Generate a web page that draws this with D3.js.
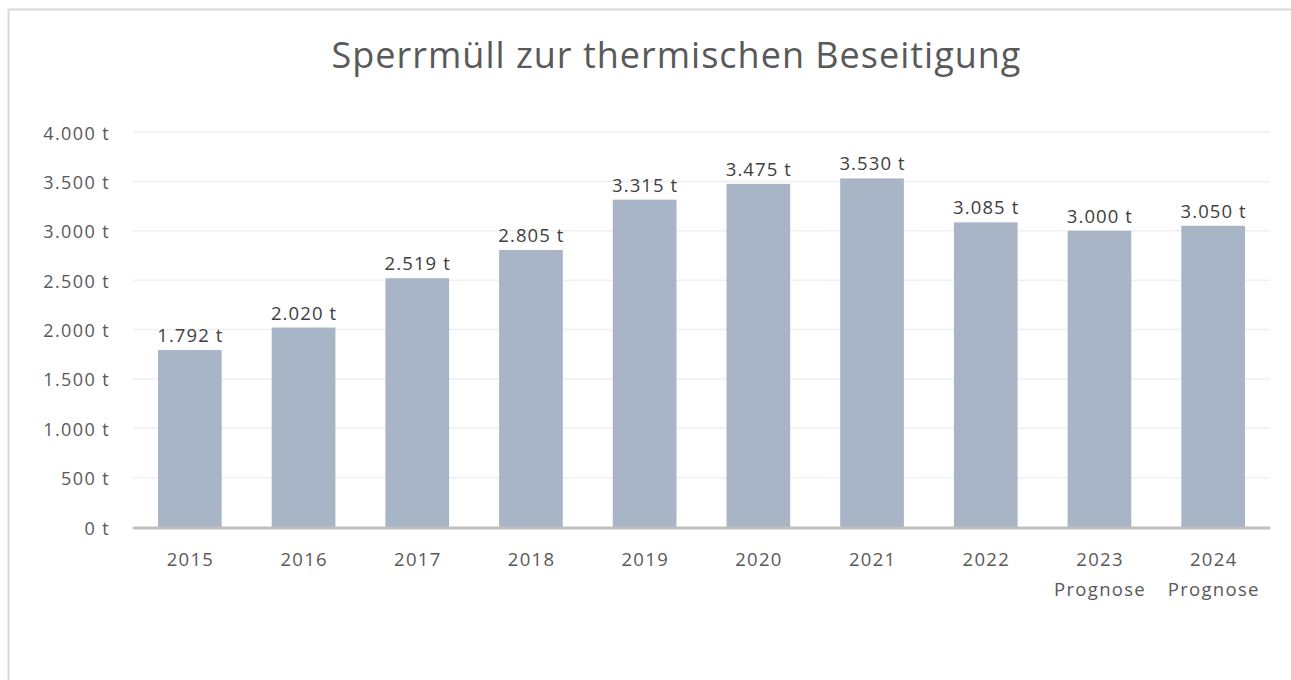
<!DOCTYPE html>
<html>
<head>
<meta charset="utf-8">
<script src="https://cdn.jsdelivr.net/npm/d3@7"></script>
<style>
  html, body { margin: 0; padding: 0; background: #ffffff; }
  svg { display: block; font-family: "Open Sans", "Noto Sans", sans-serif; }
</style>
</head>
<body>
<svg id="chart" width="1291" height="680"></svg>
<script>
// Sperrmüll zur thermischen Beseitigung, Tonnen pro Jahr
const years = ["2015", "2016", "2017", "2018", "2019", "2020", "2021", "2022", "2023", "2024"];
const subLabels = ["", "", "", "", "", "", "", "", "Prognose", "Prognose"];
const tonnes = [1792, 2020, 2519, 2805, 3315, 3475, 3530, 3085, 3000, 3050];
const yTicks = [0, 500, 1000, 1500, 2000, 2500, 3000, 3500, 4000];

const W = 1291, H = 680;
const margin = { left: 133, right: 21, top: 132, bottom: 153 };
const svg = d3.select("#chart");

const de = d3.formatLocale({ decimal: ",", thousands: ".", grouping: [3], currency: ["", " €"] });
const fmt = v => de.format(",")(v) + " t";

// outer frame
svg.append("rect")
  .attr("x", 8.5).attr("y", 9.5)
  .attr("width", W + 10).attr("height", H + 10)
  .attr("fill", "none").attr("stroke", "#d9d9d9").attr("stroke-width", 2);

const x = d3.scaleBand().domain(years).range([margin.left, W - margin.right]).paddingInner(0.44).paddingOuter(0.22);
const y = d3.scaleLinear().domain([0, 4000]).range([H - margin.bottom, margin.top]);

// gridlines
svg.append("g").selectAll("line").data(yTicks.filter(d => d > 0)).join("line")
  .attr("x1", margin.left).attr("x2", W - margin.right)
  .attr("y1", d => y(d)).attr("y2", d => y(d))
  .attr("stroke", "#efefef").attr("stroke-width", 1.5);

// y axis labels
const yAxis = d3.axisLeft(y).tickValues(yTicks).tickFormat(fmt).tickSize(0).tickPadding(0);
const gy = svg.append("g").attr("transform", `translate(${margin.left - 23},0)`).call(yAxis);
gy.select(".domain").remove();
gy.selectAll("text")
  .attr("fill", "#595959")
  .attr("dy", null).attr("y", 7)
  .style("font-size", "18px")
  .style("letter-spacing", "1.4px")
  .attr("font-family", "Open Sans, Noto Sans, sans-serif");

// bars
svg.append("g").selectAll("rect").data(tonnes).join("rect")
  .attr("x", (d, i) => x(years[i]))
  .attr("y", d => y(d))
  .attr("width", x.bandwidth())
  .attr("height", d => y(0) - y(d))
  .attr("fill", "#a8b5c7");

// baseline
svg.append("line")
  .attr("x1", margin.left).attr("x2", W - margin.right)
  .attr("y1", y(0) + 1).attr("y2", y(0) + 1)
  .attr("stroke", "#bfbfbf").attr("stroke-width", 3);

// value labels
svg.append("g").selectAll("text").data(tonnes).join("text")
  .attr("x", (d, i) => x(years[i]) + x.bandwidth() / 2 + 0.5)
  .attr("y", d => y(d) - 8)
  .attr("text-anchor", "middle")
  .attr("fill", "#404040")
  .style("font-size", "18.5px")
  .style("letter-spacing", "1.1px")
  .text(d => fmt(d));

// x axis labels
const xAxis = d3.axisBottom(x).tickSize(0).tickPadding(0);
const gx = svg.append("g").attr("transform", `translate(0,${y(0)})`).call(xAxis);
gx.select(".domain").remove();
gx.selectAll("text").remove();
const xl = gx.selectAll(".tick").append("text")
  .attr("text-anchor", "middle")
  .attr("fill", "#595959")
  .style("font-size", "18.5px")
  .style("letter-spacing", "1.3px")
  .attr("font-family", "Open Sans, Noto Sans, sans-serif");
xl.append("tspan").attr("x", 0.6).attr("y", 39).text(d => d);
xl.append("tspan").attr("x", 0.6).attr("y", 69).text(d => subLabels[years.indexOf(d)]);

// title
svg.append("text")
  .attr("x", 676.5).attr("y", 68)
  .attr("text-anchor", "middle")
  .attr("fill", "#595959")
  .style("font-size", "36px")
  .style("letter-spacing", "1px")
  .text("Sperrmüll zur thermischen Beseitigung");
</script>
</body>
</html>
